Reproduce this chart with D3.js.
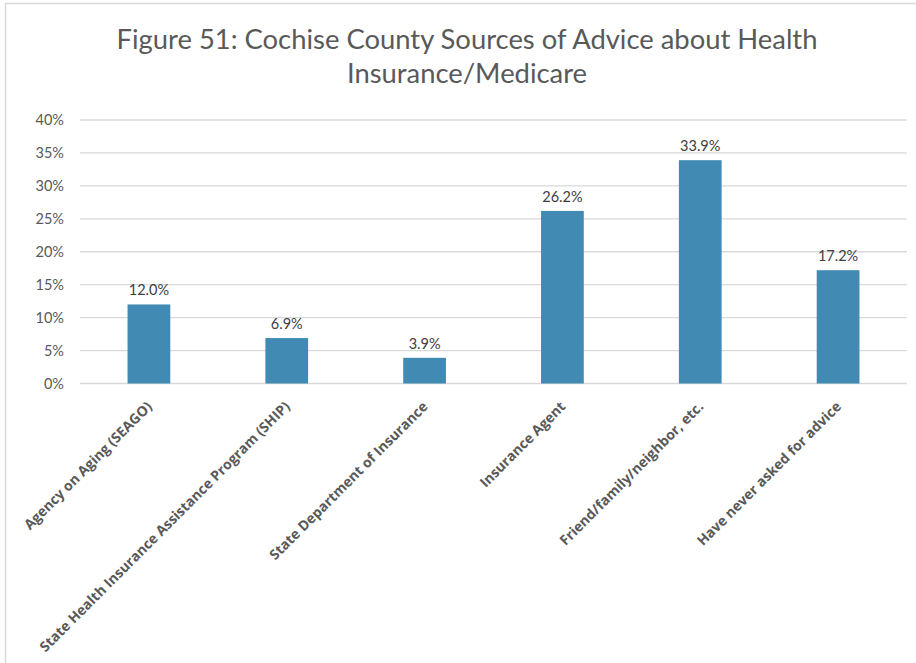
<!DOCTYPE html>
<html><head><meta charset="utf-8">
<script src="https://cdn.jsdelivr.net/npm/d3@7"></script>
<style>body{margin:0;background:#fff;} svg{display:block;}</style>
</head><body><svg id="c" width="916" height="663"></svg>
<script>
const categories = ["Agency on Aging (SEAGO)","State Health Insurance Assistance Program (SHIP)","State Department of Insurance","Insurance Agent","Friend/family/neighbor, etc.","Have never asked for advice"];
const values = [12.0, 6.9, 3.9, 26.2, 33.9, 17.2];
const yTicks = [0,5,10,15,20,25,30,35,40];
const titleLines = ["Figure 51: Cochise County Sources of Advice about Health","Insurance/Medicare"];

const svg = d3.select("#c");
const font = "Lato, 'Open Sans', sans-serif";
// frame
svg.append("rect").attr("x",5.5).attr("y",3.5).attr("width",930).attr("height",680)
  .attr("fill","#fff").attr("stroke","#d9d9d9").attr("stroke-width",1.5);

const x = d3.scaleBand().domain(categories).range([80,907]).paddingInner(0.69).paddingOuter(0.345);
const y = d3.scaleLinear().domain([0,40]).range([383.5,120]);

svg.append("g").selectAll("line").data(yTicks).join("line")
  .attr("x1",80).attr("x2",907).attr("y1",d=>y(d)).attr("y2",d=>y(d))
  .attr("stroke","#d9d9d9").attr("stroke-width",1.3);

const yAxis = svg.append("g").attr("transform","translate(64,0)")
  .call(d3.axisLeft(y).tickValues(yTicks).tickFormat(d=>d+"%").tickSize(0).tickPadding(0));
yAxis.select(".domain").remove();
yAxis.selectAll("text").attr("font-family",font).attr("font-size","14.5px").attr("fill","#595959");

svg.append("g").selectAll("rect").data(values).join("rect")
  .attr("x",(d,i)=>x(categories[i])).attr("width",x.bandwidth())
  .attr("y",d=>y(d)).attr("height",d=>y(0)-y(d)).attr("fill","#418ab3");

svg.append("g").selectAll("text").data(values).join("text")
  .attr("x",(d,i)=>x(categories[i])+x.bandwidth()/2).attr("y",d=>y(d)-9)
  .attr("text-anchor","middle").attr("font-family",font).attr("font-size","14.5px").attr("fill","#404040")
  .text(d=>d.toFixed(1)+"%");

const xAxis = svg.append("g").attr("transform",`translate(0,${y(0)})`)
  .call(d3.axisBottom(x).tickSize(0).tickPadding(0));
xAxis.select(".domain").remove();
xAxis.selectAll("text")
  .attr("font-family","'Open Sans', sans-serif").attr("font-size","14px").attr("font-weight","700").attr("fill","#595959")
  .attr("text-anchor","end").attr("dy",0).attr("y",0)
  .attr("transform","translate(4,24) rotate(-45)");

svg.append("g").selectAll("text").data(titleLines).join("text")
  .attr("x",467).attr("y",(d,i)=>49+i*34).attr("text-anchor","middle")
  .attr("font-family",font).attr("font-size","27.4px").attr("fill","#595959").text(d=>d);
</script></body></html>
